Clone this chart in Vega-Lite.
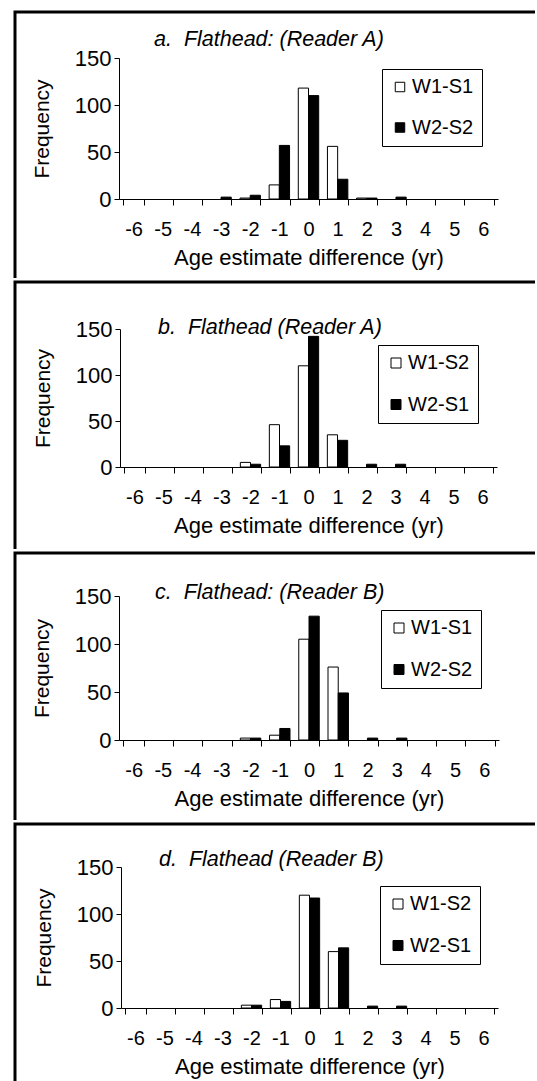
{
  "$schema": "https://vega.github.io/schema/vega-lite/v6.json",
  "padding": {"top": 10, "left": 13, "right": 0, "bottom": 0},
  "background": "white",
  "spacing": 0,
  "resolve": {
    "scale": {"x": "independent", "y": "independent", "xOffset": "independent", "color": "independent"},
    "axis": {"x": "independent", "y": "independent"},
    "legend": {"color": "independent"}
  },
  "config": {
    "font": "Liberation Sans",
    "axis": {"domainColor": "black", "tickColor": "black", "labelColor": "black", "titleColor": "black", "labelFont": "Liberation Sans", "titleFont": "Liberation Sans", "titleFontWeight": "normal", "grid": false, "domainWidth": 1, "tickWidth": 1},
    "legend": {"labelFont": "Liberation Sans", "labelColor": "black"},
    "title": {"font": "Liberation Sans", "color": "black"}
  },
  "datasets": {
    "a": [
      {"diff": -2, "series": "W1-S1", "freq": 1},
      {"diff": -1, "series": "W1-S1", "freq": 15},
      {"diff": 0, "series": "W1-S1", "freq": 118},
      {"diff": 1, "series": "W1-S1", "freq": 56},
      {"diff": 2, "series": "W1-S1", "freq": 1},
      {"diff": -3, "series": "W2-S2", "freq": 2},
      {"diff": -2, "series": "W2-S2", "freq": 4},
      {"diff": -1, "series": "W2-S2", "freq": 57},
      {"diff": 0, "series": "W2-S2", "freq": 110},
      {"diff": 1, "series": "W2-S2", "freq": 21},
      {"diff": 2, "series": "W2-S2", "freq": 1},
      {"diff": 3, "series": "W2-S2", "freq": 2}
    ],
    "b": [
      {"diff": -2, "series": "W1-S2", "freq": 5},
      {"diff": -1, "series": "W1-S2", "freq": 46},
      {"diff": 0, "series": "W1-S2", "freq": 110},
      {"diff": 1, "series": "W1-S2", "freq": 35},
      {"diff": -2, "series": "W2-S1", "freq": 3},
      {"diff": -1, "series": "W2-S1", "freq": 23},
      {"diff": 0, "series": "W2-S1", "freq": 142},
      {"diff": 1, "series": "W2-S1", "freq": 29},
      {"diff": 2, "series": "W2-S1", "freq": 3},
      {"diff": 3, "series": "W2-S1", "freq": 3}
    ],
    "c": [
      {"diff": -2, "series": "W1-S1", "freq": 2},
      {"diff": -1, "series": "W1-S1", "freq": 5},
      {"diff": 0, "series": "W1-S1", "freq": 105},
      {"diff": 1, "series": "W1-S1", "freq": 76},
      {"diff": -2, "series": "W2-S2", "freq": 2},
      {"diff": -1, "series": "W2-S2", "freq": 12},
      {"diff": 0, "series": "W2-S2", "freq": 129},
      {"diff": 1, "series": "W2-S2", "freq": 49},
      {"diff": 2, "series": "W2-S2", "freq": 2},
      {"diff": 3, "series": "W2-S2", "freq": 2}
    ],
    "d": [
      {"diff": -2, "series": "W1-S2", "freq": 3},
      {"diff": -1, "series": "W1-S2", "freq": 9},
      {"diff": 0, "series": "W1-S2", "freq": 120},
      {"diff": 1, "series": "W1-S2", "freq": 60},
      {"diff": -2, "series": "W2-S1", "freq": 3},
      {"diff": -1, "series": "W2-S1", "freq": 7},
      {"diff": 0, "series": "W2-S1", "freq": 117},
      {"diff": 1, "series": "W2-S1", "freq": 64},
      {"diff": 2, "series": "W2-S1", "freq": 2},
      {"diff": 3, "series": "W2-S1", "freq": 2}
    ]
  },
  "vconcat": [
    {
      "width": 520, "height": 266,
      "view": {"stroke": "black", "strokeWidth": 3, "strokeDash": [520, 786, 266]},
      "title": {"text": "a.\u00a0\u00a0Flathead: (Reader A)", "anchor": "start", "frame": "group", "orient": "top", "offset": -55, "dx": 139, "baseline": "alphabetic", "fontStyle": "italic", "fontWeight": "normal", "fontSize": 21.5},
      "data": {"name": "a"},
      "mark": {"type": "bar", "stroke": "black", "strokeWidth": 1},
      "encoding": {
        "x": {"field": "diff", "type": "ordinal", "scale": {"domain": [-6,-5,-4,-3,-2,-1,0,1,2,3,4,5,6], "range": [104, 483], "paddingInner": 0.3, "paddingOuter": 0.15},
              "axis": {"title": "Age estimate difference (yr)", "orient": "bottom", "offset": -79, "labelAngle": 0, "tickBand": "extent", "tickSize": 6, "labelPadding": 14, "titlePadding": 8, "labelFontSize": 20, "titleFontSize": 22}},
        "xOffset": {"field": "series", "type": "nominal", "sort": ["W1-S1", "W2-S2"], "scale": {"paddingInner": 0, "paddingOuter": 0}},
        "y": {"field": "freq", "type": "quantitative", "scale": {"domain": [0, 150], "range": [187, 46], "nice": false},
              "axis": {"title": "Frequency", "orient": "left", "offset": -104, "values": [0, 50, 100, 150], "tickSize": 5, "labelPadding": 3, "titlePadding": 22, "labelFontSize": 22, "titleFontSize": 21}},
        "color": {"field": "series", "type": "nominal", "scale": {"domain": ["W1-S1", "W2-S2"], "range": ["white", "black"]},
                  "legend": {"title": null, "orient": "none", "legendX": 367, "legendY": 57, "strokeColor": "black", "fillColor": "white", "padding": 8, "rowPadding": 20.5, "symbolType": "square", "symbolSize": 90, "symbolStrokeColor": "black", "symbolStrokeWidth": 1, "labelFontSize": 20, "labelOffset": 2}}
      }
    },
    {
      "width": 520, "height": 267,
      "view": {"stroke": "black", "strokeWidth": 3, "strokeDash": [520, 787, 267]},
      "title": {"text": "b.\u00a0\u00a0Flathead (Reader A)", "anchor": "start", "frame": "group", "orient": "top", "offset": -73, "dx": 143, "baseline": "alphabetic", "fontStyle": "italic", "fontWeight": "normal", "fontSize": 21.5},
      "data": {"name": "b"},
      "mark": {"type": "bar", "stroke": "black", "strokeWidth": 1},
      "encoding": {
        "x": {"field": "diff", "type": "ordinal", "scale": {"domain": [-6,-5,-4,-3,-2,-1,0,1,2,3,4,5,6], "range": [105, 482], "paddingInner": 0.3, "paddingOuter": 0.15},
              "axis": {"title": "Age estimate difference (yr)", "orient": "bottom", "offset": -82, "labelAngle": 0, "tickBand": "extent", "tickSize": 6, "labelPadding": 14, "titlePadding": 8, "labelFontSize": 20, "titleFontSize": 22}},
        "xOffset": {"field": "series", "type": "nominal", "sort": ["W1-S2", "W2-S1"], "scale": {"paddingInner": 0, "paddingOuter": 0}},
        "y": {"field": "freq", "type": "quantitative", "scale": {"domain": [0, 150], "range": [185, 47], "nice": false},
              "axis": {"title": "Frequency", "orient": "left", "offset": -105, "values": [0, 50, 100, 150], "tickSize": 5, "labelPadding": 3, "titlePadding": 22, "labelFontSize": 22, "titleFontSize": 21}},
        "color": {"field": "series", "type": "nominal", "scale": {"domain": ["W1-S2", "W2-S1"], "range": ["white", "black"]},
                  "legend": {"title": null, "orient": "none", "legendX": 363, "legendY": 63, "strokeColor": "black", "fillColor": "white", "padding": 8, "rowPadding": 21.5, "symbolType": "square", "symbolSize": 100, "symbolStrokeColor": "black", "symbolStrokeWidth": 1, "labelFontSize": 20, "labelOffset": 2}}
      }
    },
    {
      "width": 520, "height": 267,
      "view": {"stroke": "black", "strokeWidth": 3, "strokeDash": [520, 787, 267]},
      "title": {"text": "c.\u00a0\u00a0Flathead: (Reader B)", "anchor": "start", "frame": "group", "orient": "top", "offset": -67, "dx": 140, "baseline": "alphabetic", "fontStyle": "italic", "fontWeight": "normal", "fontSize": 21.5},
      "data": {"name": "c"},
      "mark": {"type": "bar", "stroke": "black", "strokeWidth": 1},
      "encoding": {
        "x": {"field": "diff", "type": "ordinal", "scale": {"domain": [-6,-5,-4,-3,-2,-1,0,1,2,3,4,5,6], "range": [104, 484], "paddingInner": 0.3, "paddingOuter": 0.15},
              "axis": {"title": "Age estimate difference (yr)", "orient": "bottom", "offset": -80, "labelAngle": 0, "tickBand": "extent", "tickSize": 6, "labelPadding": 14, "titlePadding": 8, "labelFontSize": 20, "titleFontSize": 22}},
        "xOffset": {"field": "series", "type": "nominal", "sort": ["W1-S1", "W2-S2"], "scale": {"paddingInner": 0, "paddingOuter": 0}},
        "y": {"field": "freq", "type": "quantitative", "scale": {"domain": [0, 150], "range": [187, 43], "nice": false},
              "axis": {"title": "Frequency", "orient": "left", "offset": -104, "values": [0, 50, 100, 150], "tickSize": 5, "labelPadding": 3, "titlePadding": 22, "labelFontSize": 22, "titleFontSize": 21}},
        "color": {"field": "series", "type": "nominal", "scale": {"domain": ["W1-S1", "W2-S2"], "range": ["white", "black"]},
                  "legend": {"title": null, "orient": "none", "legendX": 366, "legendY": 57, "strokeColor": "black", "fillColor": "white", "padding": 8, "rowPadding": 21.5, "symbolType": "square", "symbolSize": 100, "symbolStrokeColor": "black", "symbolStrokeWidth": 1, "labelFontSize": 20, "labelOffset": 2}}
      }
    },
    {
      "width": 520, "height": 258,
      "view": {"stroke": "black", "strokeWidth": 3, "strokeDash": [520, 778, 258]},
      "title": {"text": "d.\u00a0\u00a0Flathead (Reader B)", "anchor": "start", "frame": "group", "orient": "top", "offset": -63, "dx": 144, "baseline": "alphabetic", "fontStyle": "italic", "fontWeight": "normal", "fontSize": 21.5},
      "data": {"name": "d"},
      "mark": {"type": "bar", "stroke": "black", "strokeWidth": 1},
      "encoding": {
        "x": {"field": "diff", "type": "ordinal", "scale": {"domain": [-6,-5,-4,-3,-2,-1,0,1,2,3,4,5,6], "range": [106, 483], "paddingInner": 0.3, "paddingOuter": 0.15},
              "axis": {"title": "Age estimate difference (yr)", "orient": "bottom", "offset": -74, "labelAngle": 0, "tickBand": "extent", "tickSize": 6, "labelPadding": 14, "titlePadding": 8, "labelFontSize": 20, "titleFontSize": 22}},
        "xOffset": {"field": "series", "type": "nominal", "sort": ["W1-S2", "W2-S1"], "scale": {"paddingInner": 0, "paddingOuter": 0}},
        "y": {"field": "freq", "type": "quantitative", "scale": {"domain": [0, 150], "range": [184, 43], "nice": false},
              "axis": {"title": "Frequency", "orient": "left", "offset": -106, "values": [0, 50, 100, 150], "tickSize": 5, "labelPadding": 3, "titlePadding": 22, "labelFontSize": 22, "titleFontSize": 21}},
        "color": {"field": "series", "type": "nominal", "scale": {"domain": ["W1-S2", "W2-S1"], "range": ["white", "black"]},
                  "legend": {"title": null, "orient": "none", "legendX": 365, "legendY": 62, "strokeColor": "black", "fillColor": "white", "padding": 8, "rowPadding": 21.5, "symbolType": "square", "symbolSize": 100, "symbolStrokeColor": "black", "symbolStrokeWidth": 1, "labelFontSize": 20, "labelOffset": 2}}
      }
    }
  ]
}
